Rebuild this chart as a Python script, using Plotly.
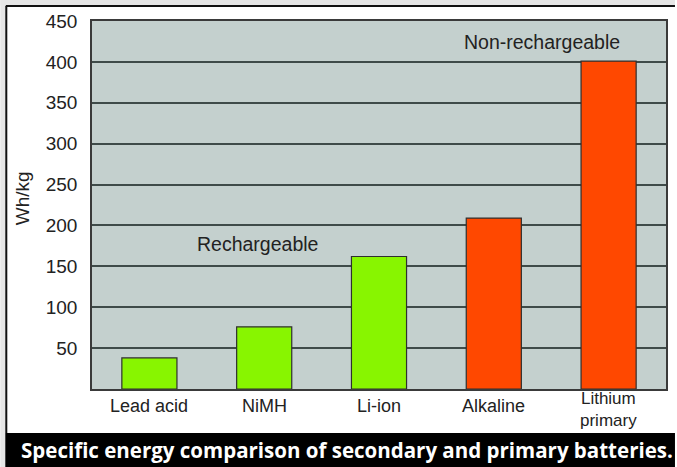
import plotly.graph_objects as go

categories = ["Lead acid", "NiMH", "Li-ion", "Alkaline", "Lithium<br>primary"]
values = [38, 76, 162, 209, 401]
bar_colors = ["#88f500", "#88f500", "#88f500", "#ff4800", "#ff4800"]
y_ticks = [50, 100, 150, 200, 250, 300, 350, 400, 450]

W, H = 677, 467
L, R, T, B = 92, 668, 21, 389
pw, ph = R - L, B - T

def px(x):
    return (x - L) / pw

def py(y):
    return (B - y) / ph

fig = go.Figure()
fig.add_trace(go.Bar(
    x=categories, y=values, width=0.48,
    marker=dict(color=bar_colors, line=dict(color="#2f2f2f", width=1.2)),
))

fig.update_layout(
    width=W, height=H,
    margin=dict(l=L, r=W - R, t=T, b=H - B),
    paper_bgcolor="white",
    plot_bgcolor="#c4d0ce",
    showlegend=False,
    bargap=0.52,
    font=dict(family="Liberation Sans, Arial, sans-serif", color="#222222"),
)
fig.update_xaxes(
    showline=True, linecolor="#3a3a3a", linewidth=1.5, mirror=True,
    showticklabels=False, ticks="", showgrid=False,
)
fig.update_yaxes(
    range=[0, 450], tickvals=y_ticks, showline=True, linecolor="#3a3a3a",
    linewidth=1.5, mirror=True, showgrid=True, gridcolor="#3f4b49", gridwidth=1.5,
    tickfont=dict(size=19, color="#222"), ticks="", ticklabelstandoff=9,
    zeroline=False,
)

def ann(text, x, y, **kw):
    fig.add_annotation(text=text, xref="paper", yref="paper", x=px(x), y=py(y),
                       xanchor=kw.pop("xanchor", "center"), yanchor="middle",
                       showarrow=False, **kw)

# Category labels (placed on the category axis)
for c in categories:
    multi = "<br>" in c
    fig.add_annotation(text=c, xref="x", yref="paper", x=c, y=py(409 if multi else 406),
                       xanchor="center", yanchor="middle", showarrow=False,
                       font=dict(size=17 if multi else 18, color="#222"))

# Y axis title
ann("Wh/kg", 22, 198, textangle=-90, font=dict(size=19, color="#222"))
# Group labels
ann("Rechargeable", 258, 244, font=dict(size=19.5, color="#222"))
ann("Non-rechargeable", 544, 42, font=dict(size=19.5, color="#222"))

# Outer frame: gray strip at top/left and black lines
fig.add_shape(type="rect", xref="paper", yref="paper", x0=px(0), x1=px(W), y0=py(0), y1=py(5.5),
              fillcolor="#e6e6e6", line_width=0, layer="below")
fig.add_shape(type="rect", xref="paper", yref="paper", x0=px(0), x1=px(5.5), y0=py(0), y1=py(H),
              fillcolor="#e6e6e6", line_width=0, layer="below")
fig.add_shape(type="line", xref="paper", yref="paper", x0=px(5.5), x1=px(W), y0=py(6), y1=py(6),
              line=dict(color="#111", width=2))
fig.add_shape(type="line", xref="paper", yref="paper", x0=px(6), x1=px(6), y0=py(6), y1=py(433),
              line=dict(color="#111", width=2))
# Caption bar
fig.add_shape(type="rect", xref="paper", yref="paper", x0=px(5), x1=px(W), y0=py(433), y1=py(H),
              fillcolor="black", line_width=0)
ann("<b>Specific energy comparison of secondary and primary batteries.</b>", 19, 450,
    xanchor="left", font=dict(family="Open Sans, sans-serif", size=20.5, color="white"))

fig.write_html("out.html", config={"displayModeBar": False},
               post_script="document.body.style.margin='0';document.body.style.overflow='hidden';")
